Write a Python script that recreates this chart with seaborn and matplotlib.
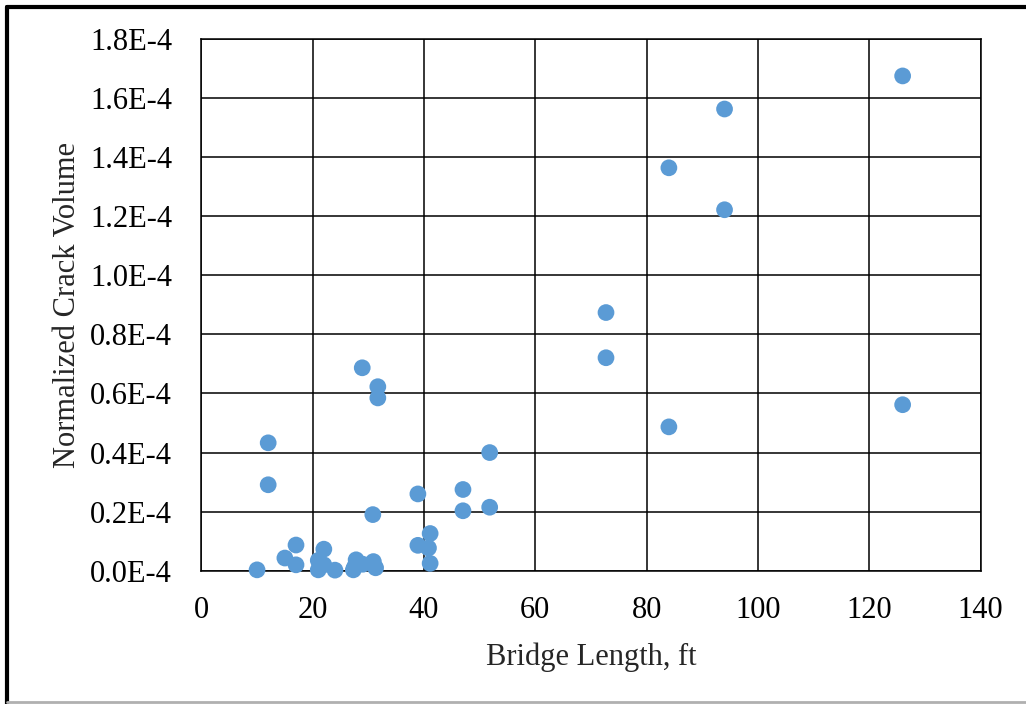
import matplotlib
matplotlib.use("Agg")
import matplotlib.pyplot as plt
import seaborn as sns
import pandas as pd
from matplotlib.lines import Line2D

# 桥长 (ft) 与归一化裂缝体积 (x1E-4)
bridge_length = [126, 94, 84, 94, 72.7, 72.7, 84, 126,
                 28.9, 31.7, 31.7, 12, 12, 51.8, 47, 47, 51.8, 38.9, 30.8,
                 17, 15, 17, 10, 22, 21, 21, 22, 24,
                 27.8, 27.3, 27.5, 29, 30.9, 31.3,
                 38.9, 41.1, 40.8, 41.1]
crack_volume = [1.675, 1.563, 1.364, 1.222, 0.874, 0.721, 0.487, 0.562,
                0.687, 0.623, 0.585, 0.433, 0.291, 0.40, 0.275, 0.203, 0.215, 0.26, 0.19,
                0.087, 0.043, 0.02, 0.003, 0.073, 0.035, 0.003, 0.02, 0.002,
                0.037, 0.003, 0.012, 0.022, 0.031, 0.01,
                0.086, 0.126, 0.077, 0.025]

x_ticks = [0, 20, 40, 60, 80, 100, 120, 140]
y_ticks = [0.0, 0.2, 0.4, 0.6, 0.8, 1.0, 1.2, 1.4, 1.6, 1.8]
y_labels = ["%.1fE-4" % v for v in y_ticks]

df = pd.DataFrame({"length": bridge_length, "volume": crack_volume})

sns.set_style("white")
plt.rcParams["font.family"] = ["Liberation Serif", "DejaVu Serif"]

fig = plt.figure(figsize=(10.26, 7.04), dpi=100)
ax = fig.add_axes([0.1963, 0.1893, 0.7594, 0.7553])

sns.scatterplot(data=df, x="length", y="volume", ax=ax, s=145,
                color="#5B9BD5", edgecolor="none", zorder=3, clip_on=False)

ax.set_xlim(0, 140)
ax.set_ylim(0, 1.8)
ax.set_xticks(x_ticks)
ax.set_yticks(y_ticks)
ax.set_yticklabels(y_labels)
ax.grid(True, color="black", linewidth=1.1)
ax.set_axisbelow(True)
for sp in ax.spines.values():
    sp.set_color("black")
    sp.set_linewidth(1.1)
ax.tick_params(length=0, labelsize=22, colors="black")
ax.tick_params(axis="y", pad=21)
ax.tick_params(axis="x", pad=18)
ax.set_xlabel("Bridge Length, ft", fontsize=22, labelpad=13)
ax.set_ylabel("Normalized Crack Volume", fontsize=22, labelpad=6)

# 外框
fig.add_artist(Line2D([0.007, 0.007], [0.0, 0.990], transform=fig.transFigure,
                      color="black", linewidth=3))
fig.add_artist(Line2D([0.007, 1.0], [0.990, 0.990], transform=fig.transFigure,
                      color="black", linewidth=3))
fig.add_artist(Line2D([0.007, 1.0], [0.003, 0.003], transform=fig.transFigure,
                      color="#b0b0b0", linewidth=2))

fig.savefig("out.png", dpi=100)
